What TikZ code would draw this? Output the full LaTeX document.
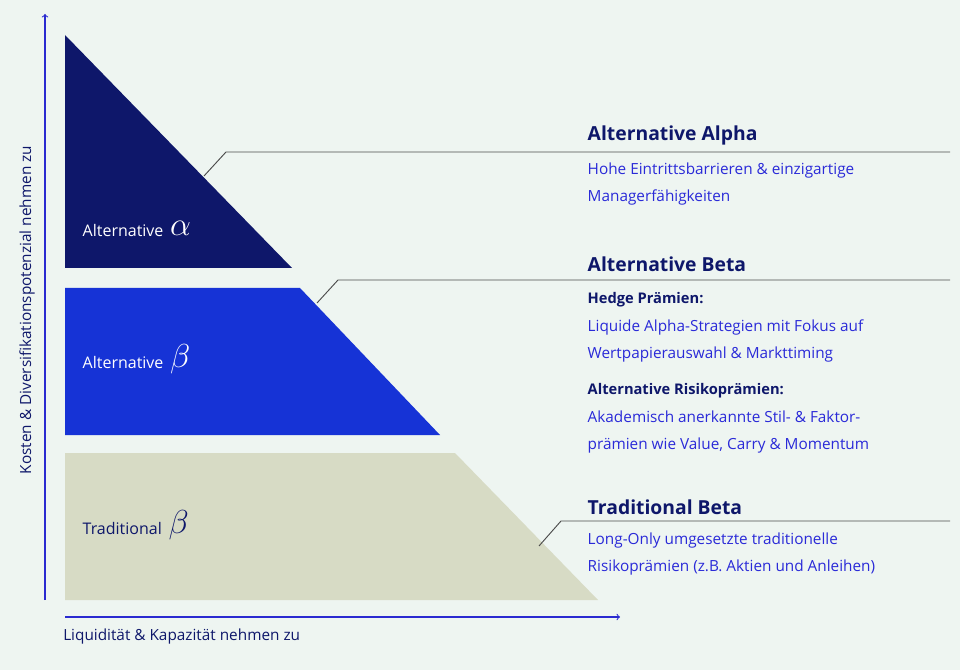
\documentclass[tikz,border=0pt]{standalone}
\usepackage{fontspec}
\setmainfont{Open Sans}
\usetikzlibrary{positioning}
\definecolor{bgmint}{HTML}{EEF5F1}
\definecolor{navy}{HTML}{0E176A}
\definecolor{midblue}{HTML}{1633D6}
\definecolor{beige}{HTML}{D7DBC5}
\definecolor{axisblue}{HTML}{2A2AD0}
\definecolor{txtblue}{HTML}{2A2AD8}
\tikzset{
  head/.style={anchor=west, text=navy, font=\fontsize{14.5}{16}\selectfont\bfseries},
  sub/.style={anchor=west, text=navy, font=\fontsize{11}{13}\selectfont\bfseries},
  desc/.style={anchor=north west, text=txtblue, align=left, font=\fontsize{11.5}{20.5}\selectfont},
  tier/.style={anchor=west, text=#1, font=\fontsize{12}{14}\selectfont},
  greek/.style={text=#1, font=\fontsize{46}{46}\selectfont},
  leader/.style={draw=black!70, line width=0.7pt},
  axis/.style={draw=axisblue, line width=0.8pt, ->}
}
\begin{document}
\begin{tikzpicture}[x=0.75pt, y=-0.75pt]
  \fill[bgmint] (0,0) rectangle (960,670);
  \useasboundingbox (0,0) rectangle (960,670);
  % tiers
  \fill[navy] (65,35) -- (65,268) -- (292,268) -- cycle;
  \fill[midblue] (65,288) -- (300,288) -- (440,435) -- (65,435) -- cycle;
  \fill[beige] (65,453) -- (455,453) -- (598,600) -- (65,600) -- cycle;
  \node (altA) [tier=white] at (78,231) {Alternative};
  \node (alpha) [greek=white, right=-2pt of altA, yshift=2pt] {$\alpha$};
  \node (altB) [tier=white] at (78,362) {Alternative};
  \node (beta1) [greek=white, right=-2pt of altB, yshift=2pt] {$\beta$};
  \node (tradB) [tier=navy] at (78,528) {Traditional};
  \node (beta2) [greek=navy, right=-2pt of tradB, yshift=2pt] {$\beta$};
  % axes
  \coordinate (origV) at (45,600);
  \coordinate (topV) at (45,14);
  \coordinate (origH) at (65,617);
  \coordinate (endH) at (620,617);
  \draw[axis] (origV) -- (topV);
  \draw[axis] (origH) -- (endH);
  \node (ylab) [rotate=90, text=navy, font=\fontsize{11.5}{14}\selectfont] at (27,310) {Kosten \& Diversifikationspotenzial nehmen zu};
  \node (xlab) [anchor=west, text=navy, font=\fontsize{11.5}{14}\selectfont, inner sep=0pt] at (63,637) {Liquidität \& Kapazität nehmen zu};
  % leaders
  \coordinate (la0) at (204,176); \coordinate (la1) at (226,152); \coordinate (la2) at (950,152);
  \coordinate (lb0) at (317,303); \coordinate (lb1) at (338,280); \coordinate (lb2) at (950,280);
  \coordinate (lc0) at (539,546); \coordinate (lc1) at (561,521); \coordinate (lc2) at (950,521);
  \draw[leader] (la0) -- (la1) -- (la2);
  \draw[leader] (lb0) -- (lb1) -- (lb2);
  \draw[leader] (lc0) -- (lc1) -- (lc2);
  % text
  \node (hA) [head] at (583,135) {Alternative Alpha};
  \node (dA) [desc] at (583,158) {Hohe Eintrittsbarrieren \& einzigartige\\Managerfähigkeiten};
  \node (hB) [head] at (583,264) {Alternative Beta};
  \node (sB1) [sub] at (583,300) {Hedge Prämien:};
  \node (dB1) [desc] at (583,315) {Liquide Alpha-Strategien mit Fokus auf\\Wertpapierauswahl \& Markttiming};
  \node (sB2) [sub] at (583,391) {Alternative Risikoprämien:};
  \node (dB2) [desc] at (583,406) {Akademisch anerkannte Stil- \& Faktor-\\prämien wie Value, Carry \& Momentum};
  \node (hC) [head] at (583,507) {Traditional Beta};
  \node (dC) [desc] at (583,528) {Long-Only umgesetzte traditionelle\\Risikoprämien (z.B. Aktien und Anleihen)};
\end{tikzpicture}
\end{document}
